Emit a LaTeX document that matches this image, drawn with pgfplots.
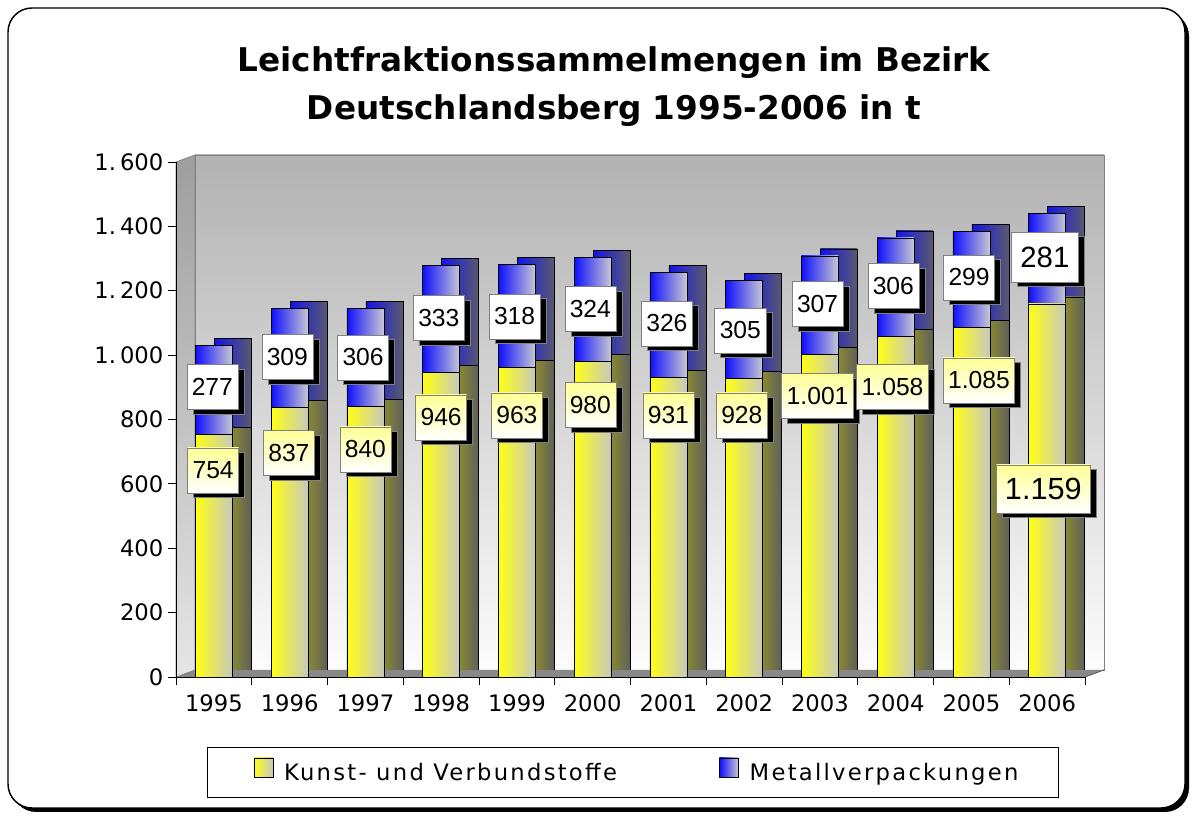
\documentclass[border=0pt]{standalone}
\usepackage{pgfplots}
\pgfplotsset{compat=1.18}
\usepackage{pgfplotstable}
\usepackage{fontspec}
\setmainfont{DejaVu Sans}
\newfontfamily\labfont{Liberation Sans}
\newfontfamily\legfont[LetterSpace=10]{DejaVu Sans}
\usetikzlibrary{shadows}

\definecolor{yelL}{RGB}{255,255,20}
\definecolor{yelR}{RGB}{200,200,190}
\definecolor{bluL}{RGB}{15,15,255}
\definecolor{bluR}{RGB}{200,200,212}
\definecolor{ysideL}{RGB}{175,175,15}
\definecolor{ysideR}{RGB}{95,95,90}
\definecolor{bsideL}{RGB}{20,20,235}
\definecolor{bsideR}{RGB}{90,90,110}
\definecolor{wallTop}{RGB}{178,178,178}
\definecolor{wallBot}{RGB}{252,252,252}
\definecolor{floorC}{RGB}{136,136,136}
\definecolor{labY}{RGB}{255,255,150}

\pgfplotstableread{
x kunst metall
0 754 277
1 837 309
2 840 306
3 946 333
4 963 318
5 980 324
6 931 326
7 928 305
8 1001 307
9 1058 306
10 1085 299
11 1159 281
}\datatable

\tikzset{
  labstyle/.style={
    anchor=center, draw=gray, line width=0.5pt,
    drop shadow={shadow xshift=4.5pt, shadow yshift=-3.5pt, fill=black, opacity=1},
  },
}
\pgfplotsset{
  base/.style={
    width=681.75pt, height=386.25pt, scale only axis,
    xmin=-0.5, xmax=11.5, ymin=0, ymax=1600,
    anchor=south west, bar width=27.75pt,
  },
  onebar/.style={ybar, bar shift=0pt, forget plot, draw=black, line width=0.5pt,
    restrict x to domain=#1:#1},
}

\begin{document}
\begin{tikzpicture}
\path[use as bounding box] (-132pt,-104.25pt) rectangle (762pt,507.75pt);
% frame
\fill[black, rounded corners=18pt] (-123pt,-101.25pt) rectangle (759.75pt,498.75pt);
\draw[black, fill=white, line width=1.1pt, rounded corners=18pt] (-126pt,-98.25pt) rectangle (756.75pt,501.75pt);
% title
\node[anchor=base, font=\bfseries\fontsize{24.5}{30}\selectfont] at (328.5pt,453.75pt) {Leichtfraktionssammelmengen im Bezirk};
\node[anchor=base, font=\bfseries\fontsize{24.5}{30}\selectfont] at (328.5pt,417.75pt) {Deutschlandsberg 1995-2006 in t};
% walls and floor
\shade[top color=wallTop, bottom color=wallBot] (14.25pt,5.25pt) rectangle (696pt,391.5pt);
\draw[gray, line width=0.5pt] (14.25pt,5.25pt) rectangle (696pt,391.5pt);
\shade[top color=black!38, bottom color=black!10] (0pt,0pt) -- (0pt,386.25pt) -- (14.25pt,391.5pt) -- (14.25pt,5.25pt) -- cycle;
\draw[gray, line width=0.5pt] (0pt,0pt) -- (0pt,386.25pt) -- (14.25pt,391.5pt) -- (14.25pt,5.25pt) -- cycle;
\fill[floorC] (0pt,0pt) -- (681.75pt,0pt) -- (696pt,5.25pt) -- (14.25pt,5.25pt) -- cycle;
\draw[gray!60!black, line width=0.5pt] (681.75pt,0pt) -- (696pt,5.25pt);

% back (depth) axis: side and top faces
\begin{axis}[base, at={(14.25pt,5.25pt)}, hide axis]
\pgfplotsinvokeforeach{0,...,11}{
  \addplot[onebar=#1, left color=bsideL, right color=bsideR]
    table[x=x, y expr=\thisrow{kunst}+\thisrow{metall}]{\datatable};
  \addplot[onebar=#1, left color=ysideL, right color=ysideR]
    table[x=x, y=kunst]{\datatable};
}
\end{axis}

% front axis
\begin{axis}[base, at={(0pt,0pt)},
  axis x line*=bottom, axis y line*=left,
  axis line style={-, black, line width=0.6pt},
  tick align=outside, major tick length=6pt, minor tick length=6pt,
  xtick={0,...,11},
  xticklabels={1995,1996,1997,1998,1999,2000,2001,2002,2003,2004,2005,2006},
  major x tick style={draw=none},
  minor xtick={-0.5,0.5,...,11.5},
  minor x tick style={draw=black, line width=0.6pt},
  ytick={0,200,...,1600},
  yticklabels={0,200,400,600,800,{1.\kern3pt000},{1.\kern3pt200},{1.\kern3pt400},{1.\kern3pt600}},
  y tick style={black, line width=0.6pt},
  /pgf/number format/assume math mode=true,
  tick label style={font=\fontsize{17}{20}\selectfont},
  xticklabel style={yshift=-4pt},
  legend columns=2,
  legend style={at={(0.0341,-0.1845)}, anchor=west, draw=black, line width=0.6pt, fill=white,
    inner xsep=27pt, inner ysep=8pt,
    nodes={inner sep=0pt, text height=13pt, text depth=4pt},
    font=\legfont\fontsize{17}{20}\selectfont},
  legend image code/.code={\path (0pt,0pt); \draw[#1, draw=black, line width=0.4pt] (7.5pt,-1.5pt) rectangle (21.75pt,12.75pt);},
]
\addlegendimage{left color=yelL, right color=yelR}
\addlegendentry{\hspace{8.25pt}\makebox[318.75pt][l]{Kunst- und Verbundstoffe}}
\addlegendimage{left color=bluL, right color=bluR}
\addlegendentry{\hspace{8.25pt}\makebox[204.75pt][l]{Metallverpackungen}}
\pgfplotsinvokeforeach{0,...,11}{
  \addplot[onebar=#1, left color=bluL, right color=bluR]
    table[x=x, y expr=\thisrow{kunst}+\thisrow{metall}]{\datatable};
  \addplot[onebar=#1, left color=yelL, right color=yelR]
    table[x=x, y=kunst]{\datatable};
}
\end{axis}

% data labels
\begin{axis}[base, at={(0pt,0pt)}, hide axis, clip=false]
\addplot[only marks, mark=*, mark size=0pt, mark options={draw=none,fill=none},
  point meta=explicit symbolic, nodes near coords,
  every node near coord/.append style={labstyle, top color=labY, bottom color=white,
    font=\labfont\fontsize{18.5}{21}\selectfont, minimum height=33.75pt, inner xsep=3.7pt}]
coordinates {
(-0.01,641.6)[754]
(0.99,695.9)[837]
(2.0,706.8)[840]
(3.0,806.2)[946]
(4.0,812.4)[963]
(4.97,845.0)[980]
(6.0,812.4)[931]
(6.97,812.4)[928]
(7.97,873.0)[1.001]
(8.96,901.0)[1.058]
(10.1,921.2)[1.085]
};
\addplot[only marks, mark=*, mark size=0pt, mark options={draw=none,fill=none},
  point meta=explicit symbolic, nodes near coords,
  every node near coord/.append style={labstyle, top color=labY, bottom color=white,
    font=\labfont\fontsize{23}{26}\selectfont, minimum height=36pt, inner xsep=6.5pt}]
coordinates {(10.95,584.1)[1.159]};
\addplot[only marks, mark=*, mark size=0pt, mark options={draw=none,fill=none},
  point meta=explicit symbolic, nodes near coords,
  every node near coord/.append style={labstyle, fill=white,
    font=\labfont\fontsize{18.5}{21}\selectfont, minimum height=33.75pt, inner xsep=3.7pt}]
coordinates {
(-0.02,901.0)[277]
(0.97,994.2)[309]
(1.97,992.6)[306]
(2.97,1115.3)[333]
(3.97,1120.0)[318]
(4.97,1143.3)[324]
(5.98,1098.3)[326]
(6.95,1076.5)[305]
(7.97,1158.8)[307]
(8.97,1214.8)[306]
(9.97,1241.2)[299]
};
\addplot[only marks, mark=*, mark size=0pt, mark options={draw=none,fill=none},
  point meta=explicit symbolic, nodes near coords,
  every node near coord/.append style={labstyle, fill=white,
    font=\labfont\fontsize{22}{25}\selectfont, minimum height=37.5pt, inner xsep=6.5pt}]
coordinates {(10.97,1304.9)[281]};
\end{axis}
\end{tikzpicture}
\end{document}
